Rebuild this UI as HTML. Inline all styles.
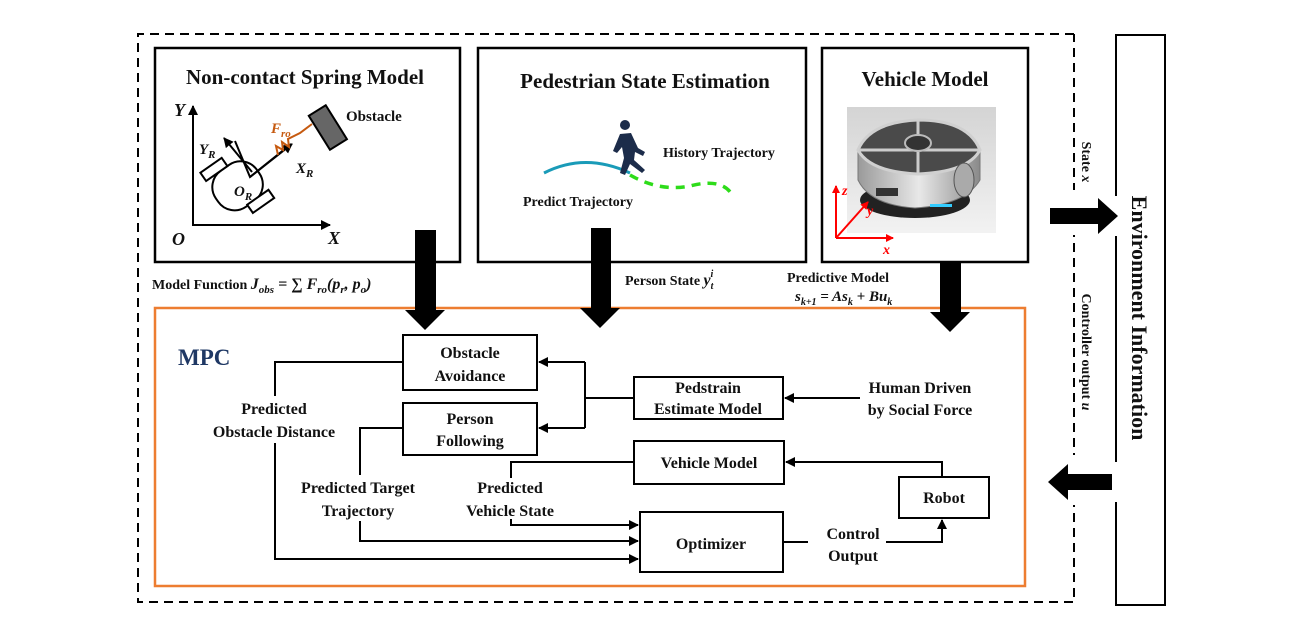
<!DOCTYPE html>
<html><head><meta charset="utf-8"><style>
html,body{margin:0;padding:0;background:#fff;}
svg{display:block;}
text{font-family:"Liberation Serif",serif;font-weight:bold;fill:#111;}
.c{font-size:16px;}
</style></head><body>
<svg width="1300" height="631" viewBox="0 0 1300 631" xmlns="http://www.w3.org/2000/svg">
<defs>
<marker id="ah" markerWidth="10" markerHeight="10" refX="9" refY="5" orient="auto" markerUnits="userSpaceOnUse">
<path d="M0,0 L10,5 L0,10 z" fill="#000"/></marker>
<marker id="ar" markerWidth="8" markerHeight="8" refX="7" refY="4" orient="auto" markerUnits="userSpaceOnUse">
<path d="M0,0 L8,4 L0,8 z" fill="#f00"/></marker>
<linearGradient id="bg" x1="0" y1="0" x2="0" y2="1"><stop offset="0" stop-color="#d4d4d4"/><stop offset="1" stop-color="#f2f2f2"/></linearGradient>
<linearGradient id="sv" x1="0" y1="0" x2="1" y2="0"><stop offset="0" stop-color="#9a9a9a"/><stop offset="0.5" stop-color="#e8e8e8"/><stop offset="1" stop-color="#8a8a8a"/></linearGradient>
</defs>

<!-- outer dashed -->
<path d="M1074,34 L138,34 L138,602 L1074,602 L1074,34" fill="none" stroke="#000" stroke-width="2" stroke-dasharray="9,6"/>
<rect x="1066" y="190" width="16" height="45" fill="#fff"/>
<rect x="1066" y="455" width="16" height="50" fill="#fff"/>

<!-- env box -->
<rect x="1116" y="35" width="49" height="570" fill="none" stroke="#000" stroke-width="2"/>
<rect x="1112" y="196" width="8" height="40" fill="#fff"/>
<rect x="1112" y="462" width="8" height="40" fill="#fff"/>
<text transform="translate(1132,318) rotate(90)" text-anchor="middle" font-size="22">Environment Information</text>
<text transform="translate(1082,162) rotate(90)" text-anchor="middle" font-size="14">State <tspan font-style="italic">x</tspan></text>
<text transform="translate(1082,352) rotate(90)" text-anchor="middle" font-size="14">Controller output <tspan font-style="italic">u</tspan></text>
<polygon points="1050,208 1098,208 1098,198 1118,216 1098,234 1098,224 1050,224" fill="#000"/>
<polygon points="1112,474 1068,474 1068,464 1048,482 1068,500 1068,490 1112,490" fill="#000"/>

<!-- box 1 -->
<rect x="155" y="48" width="305" height="214" fill="none" stroke="#000" stroke-width="2.5"/>
<text x="305" y="84" text-anchor="middle" font-size="21">Non-contact Spring Model</text>
<line x1="193" y1="226" x2="193" y2="106" stroke="#000" stroke-width="2" marker-end="url(#ah)"/>
<line x1="193" y1="225" x2="330" y2="225" stroke="#000" stroke-width="2" marker-end="url(#ah)"/>
<text x="174" y="116" font-size="18" font-style="italic">Y</text>
<text x="172" y="245" font-size="18" font-style="italic">O</text>
<text x="328" y="244" font-size="18" font-style="italic">X</text>
<g transform="rotate(-35 237 185)">
<rect x="212" y="164" width="50" height="44" rx="20" fill="none" stroke="#000" stroke-width="2"/>
<rect x="214" y="154" width="26" height="10" fill="#fff" stroke="#000" stroke-width="2"/>
<rect x="234" y="207" width="26" height="10" fill="#fff" stroke="#000" stroke-width="2"/>
</g>
<polyline points="235,141 250,177 291,144" fill="none" stroke="#000" stroke-width="2"/>
<line x1="250" y1="177" x2="292" y2="144" stroke="#000" stroke-width="2" marker-end="url(#ah)"/>
<line x1="252" y1="172" x2="224" y2="138" stroke="#000" stroke-width="2" marker-end="url(#ah)"/>
<polyline points="278,155 276,146 283,150 282,142 289,147 288,139 300,133 312,124" fill="none" stroke="#c65a10" stroke-width="2"/>
<g transform="rotate(-32 327 128)"><rect x="318" y="108" width="20" height="40" fill="#666" stroke="#000" stroke-width="2"/></g>
<text x="346" y="121" font-size="15">Obstacle</text>
<text x="271" y="133" font-size="15" font-style="italic" style="fill:#c65a10">F<tspan font-size="11" dy="4">ro</tspan></text>
<text x="199" y="154" font-size="15" font-style="italic">Y<tspan font-size="11" dy="4">R</tspan></text>
<text x="296" y="173" font-size="15" font-style="italic">X<tspan font-size="11" dy="4">R</tspan></text>
<text x="234" y="196" font-size="15" font-style="italic">O<tspan font-size="11" dy="4">R</tspan></text>

<!-- box 2 -->
<rect x="478" y="48" width="328" height="214" fill="none" stroke="#000" stroke-width="2.5"/>
<text x="645" y="88" text-anchor="middle" font-size="21">Pedestrian State Estimation</text>
<path d="M544,173 Q585,152 630,173" fill="none" stroke="#1a9bb8" stroke-width="3"/>
<path d="M630,175 Q660,192 690,186 Q720,178 731,193" fill="none" stroke="#2edc1a" stroke-width="3.5" stroke-dasharray="9,7"/>
<circle cx="625" cy="125" r="5" fill="#1c2c4a"/>
<path d="M620,134 L631,133 L638,148 L645,152 L643,156 L635,152 L634,160 L645,170 L642,173 L630,164 L625,175 L620,173 L624,158 L622,147 L617,153 L613,151 Z" fill="#1c2c4a"/>
<text x="663" y="157" font-size="14">History Trajectory</text>
<text x="523" y="206" font-size="14">Predict Trajectory</text>

<!-- box 3 -->
<rect x="822" y="48" width="206" height="214" fill="none" stroke="#000" stroke-width="2.5"/>
<text x="925" y="86" text-anchor="middle" font-size="21">Vehicle Model</text>
<rect x="847" y="107" width="149" height="126" fill="url(#bg)"/>
<ellipse cx="915" cy="200" rx="55" ry="18" fill="#222"/>
<path d="M858,150 L858,180 Q870,205 915,208 Q965,205 980,180 L980,150 Z" fill="url(#sv)" stroke="#777"/>
<path d="M858,150 Q870,122 918,120 Q968,120 980,150 Q968,172 918,174 Q870,172 858,150 Z" fill="#4a4a4a" stroke="#d0d0d0" stroke-width="3"/>
<line x1="918" y1="121" x2="918" y2="173" stroke="#ccc" stroke-width="3"/>
<line x1="859" y1="150" x2="979" y2="150" stroke="#ccc" stroke-width="3"/>
<ellipse cx="918" cy="143" rx="13" ry="8" fill="#333" stroke="#bbb" stroke-width="2"/>
<ellipse cx="964" cy="180" rx="10" ry="17" fill="#aaa" stroke="#555"/>
<rect x="930" y="204" width="22" height="3" fill="#3cf"/>
<rect x="876" y="188" width="22" height="8" fill="#333"/>
<line x1="836" y1="238" x2="836" y2="186" stroke="#f00" stroke-width="2" marker-end="url(#ar)"/>
<line x1="836" y1="238" x2="893" y2="238" stroke="#f00" stroke-width="2" marker-end="url(#ar)"/>
<line x1="836" y1="238" x2="868" y2="202" stroke="#f00" stroke-width="2" marker-end="url(#ar)"/>
<text x="842" y="195" font-size="14" font-style="italic" style="fill:#f00">z</text>
<text x="867" y="215" font-size="14" font-style="italic" style="fill:#f00">y</text>
<text x="883" y="254" font-size="14" font-style="italic" style="fill:#f00">x</text>

<!-- labels between -->
<text x="152" y="289" font-size="14">Model Function <tspan font-style="italic" font-size="16">J<tspan font-size="11" dy="4">obs</tspan><tspan dy="-4"> = ∑ F</tspan><tspan font-size="11" dy="4">ro</tspan><tspan dy="-4">(p</tspan><tspan font-size="11" dy="4">r</tspan><tspan dy="-4">, p</tspan><tspan font-size="11" dy="4">o</tspan><tspan dy="-4">)</tspan></tspan></text>
<text x="625" y="285" font-size="14">Person State <tspan font-style="italic" font-size="16">y</tspan><tspan font-size="10" font-style="italic" dy="4">t</tspan><tspan font-size="10" font-style="italic" dx="-3" dy="-12">i</tspan></text>
<text x="787" y="282" font-size="14">Predictive Model</text>
<text x="795" y="301" font-size="15" font-style="italic">s<tspan font-size="10" dy="4">k+1</tspan><tspan dy="-4"> = As</tspan><tspan font-size="10" dy="4">k</tspan><tspan dy="-4"> + Bu</tspan><tspan font-size="10" dy="4">k</tspan></text>

<!-- MPC box -->
<rect x="155" y="308" width="870" height="278" fill="none" stroke="#ed7d31" stroke-width="2.5"/>
<text x="178" y="365" font-size="23" style="fill:#1f3864">MPC</text>

<!-- big down arrows -->
<polygon points="415,230 436,230 436,310 445,310 425,330 405,310 415,310" fill="#000"/>
<polygon points="591,228 611,228 611,308 620,308 600,328 580,308 591,308" fill="#000"/>
<polygon points="940,262 961,262 961,312 970,312 950,332 930,312 940,312" fill="#000"/>

<!-- MPC boxes -->
<g fill="#fff" stroke="#000" stroke-width="2">
<rect x="403" y="335" width="134" height="55"/>
<rect x="403" y="403" width="134" height="52"/>
<rect x="634" y="377" width="149" height="42"/>
<rect x="634" y="441" width="150" height="43"/>
<rect x="899" y="477" width="90" height="41"/>
<rect x="640" y="512" width="143" height="60"/>
</g>
<g class="c" text-anchor="middle">
<text x="470" y="358">Obstacle</text>
<text x="470" y="381">Avoidance</text>
<text x="470" y="424">Person</text>
<text x="470" y="446">Following</text>
<text x="708" y="393">Pedstrain</text>
<text x="708" y="414">Estimate Model</text>
<text x="709" y="468">Vehicle Model</text>
<text x="944" y="503">Robot</text>
<text x="711" y="549">Optimizer</text>
<text x="920" y="393">Human Driven</text>
<text x="920" y="415">by Social Force</text>
<text x="274" y="414">Predicted</text>
<text x="274" y="437">Obstacle Distance</text>
<text x="358" y="493">Predicted Target</text>
<text x="358" y="516">Trajectory</text>
<text x="510" y="493">Predicted</text>
<text x="510" y="516">Vehicle State</text>
<text x="853" y="539">Control</text>
<text x="853" y="561">Output</text>
</g>

<g fill="none" stroke="#000" stroke-width="2">
<polyline points="403,362 275,362 275,396"/>
<polyline points="275,443 275,559 638,559" marker-end="url(#ah)"/>
<polyline points="403,428 360,428 360,475"/>
<polyline points="360,521 360,541 638,541" marker-end="url(#ah)"/>
<polyline points="634,462 511,462 511,478"/>
<polyline points="511,519 511,525 638,525" marker-end="url(#ah)"/>
<polyline points="634,398 585,398"/>
<polyline points="585,362 585,428"/>
<line x1="585" y1="362" x2="539" y2="362" marker-end="url(#ah)"/>
<line x1="585" y1="428" x2="539" y2="428" marker-end="url(#ah)"/>
<line x1="860" y1="398" x2="785" y2="398" marker-end="url(#ah)"/>
<polyline points="942,477 942,462 786,462" marker-end="url(#ah)"/>
<line x1="783" y1="542" x2="808" y2="542"/>
<polyline points="886,542 942,542 942,520" marker-end="url(#ah)"/>
</g>
</svg>
</body></html>
